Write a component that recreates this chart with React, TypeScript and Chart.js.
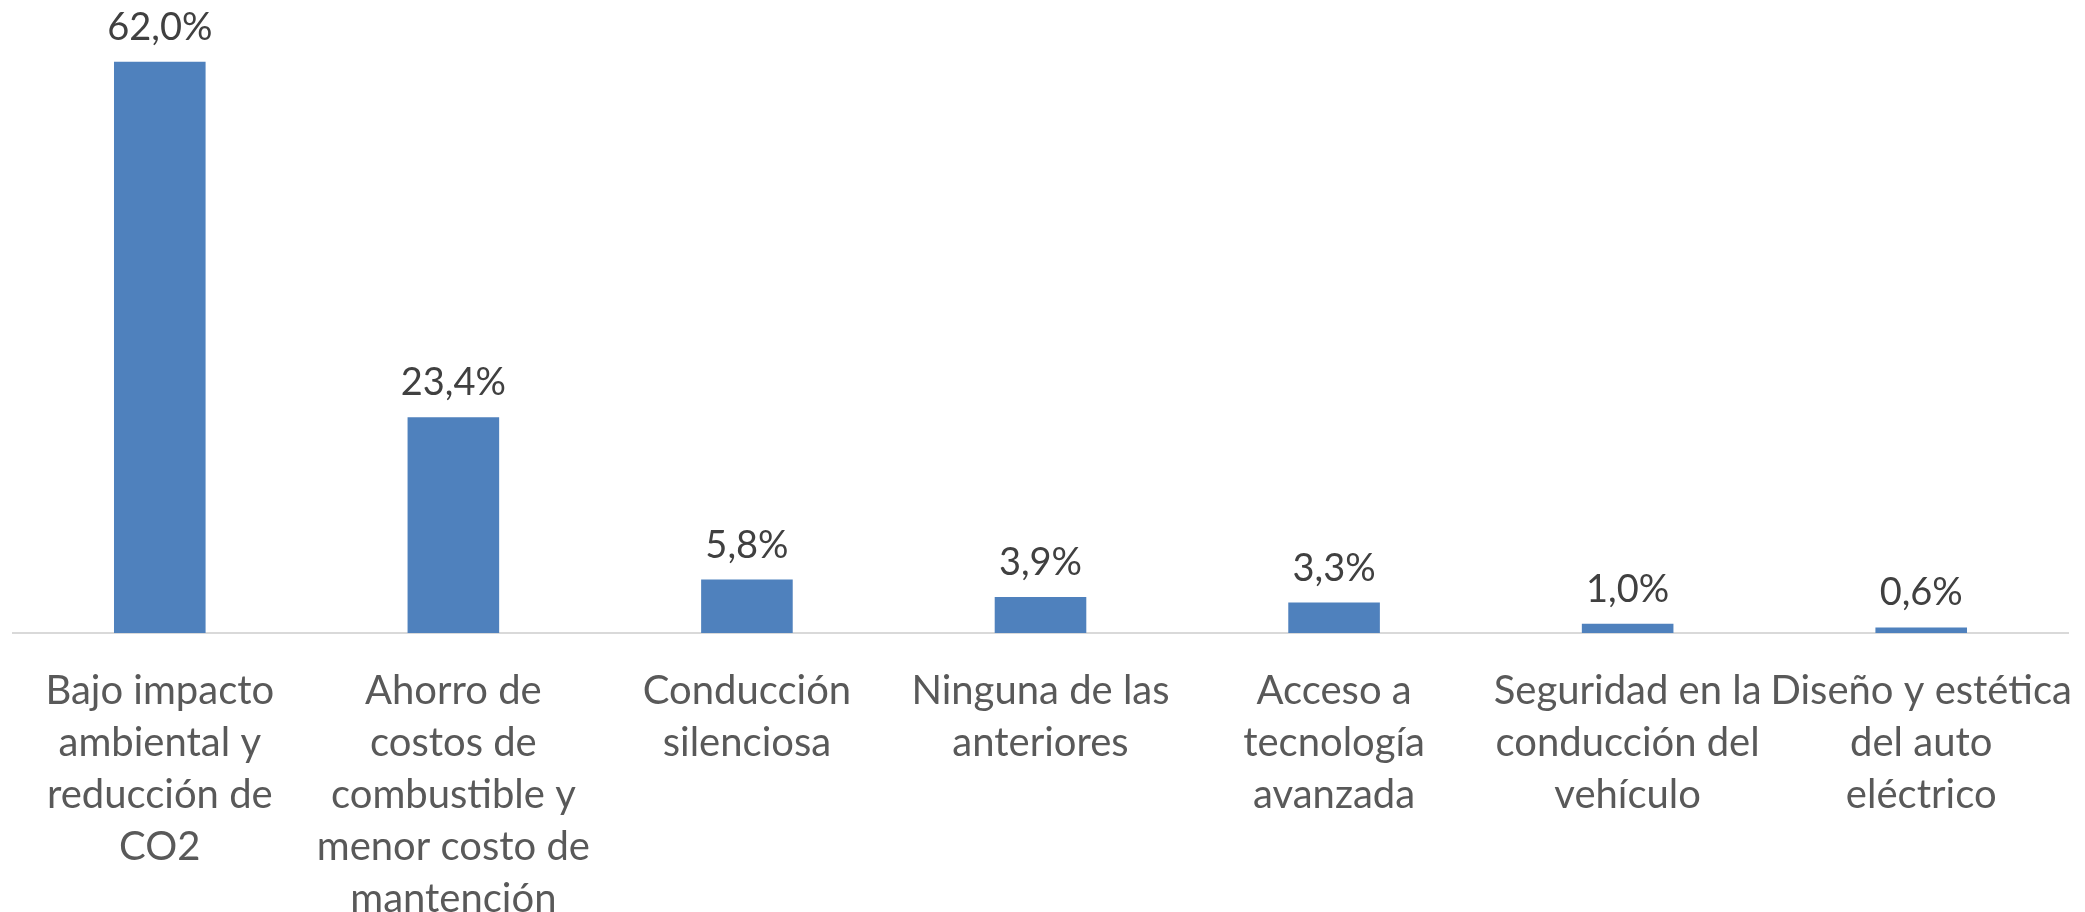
import React, { useEffect, useRef } from "react";
import { Chart, registerables } from "chart.js";

Chart.register(...registerables);

const categories: string[][] = [
  ["Bajo impacto", "ambiental y", "reducción de", "CO2"],
  ["Ahorro de", "costos de", "combustible y", "menor costo de", "mantención"],
  ["Conducción", "silenciosa"],
  ["Ninguna de las", "anteriores"],
  ["Acceso a", "tecnología", "avanzada"],
  ["Seguridad en la", "conducción del", "vehículo"],
  ["Diseño y estética", "del auto", "eléctrico"],
];
const values: number[] = [62.0, 23.4, 5.8, 3.9, 3.3, 1.0, 0.6];
const valueLabels: string[] = ["62,0%", "23,4%", "5,8%", "3,9%", "3,3%", "1,0%", "0,6%"];

const FONT = "Lato, 'Noto Sans', sans-serif";

const dataLabelPlugin = {
  id: "dataLabels",
  afterDatasetsDraw(chart: any) {
    const ctx = chart.ctx;
    const meta = chart.getDatasetMeta(0);
    ctx.save();
    ctx.font = `38px ${FONT}`;
    ctx.fillStyle = "#404040";
    ctx.textAlign = "center";
    ctx.textBaseline = "alphabetic";
    meta.data.forEach((bar: any, i: number) => {
      ctx.fillText(valueLabels[i], bar.x, bar.y - 22);
    });
    ctx.restore();
  },
};

export default function App() {
  const ref = useRef<HTMLCanvasElement | null>(null);
  useEffect(() => {
    if (!ref.current) return;
    const chart = new Chart(ref.current, {
      type: "bar",
      data: {
        labels: categories,
        datasets: [
          {
            data: values,
            backgroundColor: "#4F81BD",
            borderWidth: 0,
            barPercentage: 0.312,
            categoryPercentage: 1,
          },
        ],
      },
      options: {
        responsive: false,
        animation: false,
        layout: { padding: { left: 13, right: 17, top: 34, bottom: 0 } },
        plugins: {
          legend: { display: false },
          tooltip: { enabled: false },
        },
        scales: {
          x: {
            grid: { display: false, drawTicks: false },
            border: { display: true, color: "#D9D9D9", width: 2 },
            ticks: {
              color: "#595959",
              font: { family: FONT, size: 40, lineHeight: 1.3 },
              padding: 32,
              maxRotation: 0,
              autoSkip: false,
            },
            afterFit: (scale: any) => {
              scale.height = 279;
              scale.paddingLeft = 0;
              scale.paddingRight = 0;
            },
          },
          y: {
            display: false,
            min: 0,
            max: 65,
          },
        },
      },
      plugins: [dataLabelPlugin],
    });
    return () => chart.destroy();
  }, []);
  return (
    <div style={{ position: "absolute", left: 0, top: 0, width: 2085, height: 912, background: "#fff" }}>
      <canvas ref={ref} width={2085} height={912} style={{ width: 2085, height: 912 }} />
    </div>
  );
}
